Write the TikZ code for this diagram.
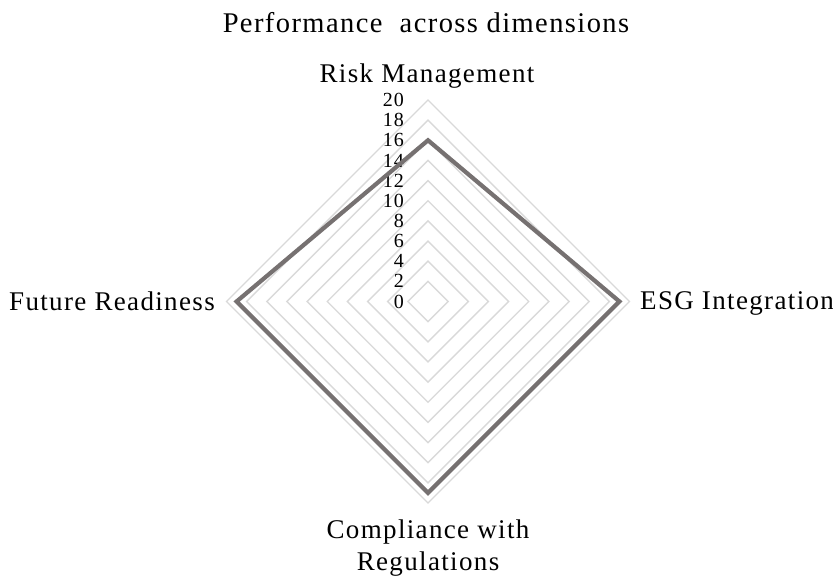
\documentclass[tikz,border=0pt]{standalone}
\usepackage{fontspec}
\setmainfont{Liberation Serif}[LetterSpace=5]
\definecolor{ringgray}{RGB}{217,217,217}
\definecolor{seriesgray}{RGB}{118,113,113}
\begin{document}
\begin{tikzpicture}[x=1pt,y=-1pt,line join=miter,
	ring/.style={draw=ringgray,line width=1.4pt},
	series/.style={draw=seriesgray,line width=4.2pt},
	tick/.style={anchor=east,inner sep=0pt,font=\fontsize{20}{20}\selectfont},
	lab/.style={inner sep=0pt,align=center,anchor=base,font=\fontsize{27}{32}\selectfont}]
	\useasboundingbox (0,0) rectangle (833,580);
	\begin{scope}[shift={(428,301.5)}]
		\def\u{10.075}
		% grid rings
		\foreach \v in {2,4,...,20}
			\draw[ring] (0,{-\v*\u})--({\v*\u},0)--(0,{\v*\u})--({-\v*\u},0)--cycle;
		\foreach \v in {0,2,...,20}
			\node[tick] (t\v) at (-24,{-\v*\u}) {\v};
		% data
		\coordinate (pr) at (0,{-16*\u});
		\coordinate (pe) at ({19*\u},0);
		\coordinate (pc) at (0,{19*\u});
		\coordinate (pf) at ({-19*\u},0);
		\draw[series] (pr)--(pe)--(pc)--(pf)--cycle;
		% labels
		\node[lab] (risk) at (-1,-218.5) {Risk Management};
		\node[lab,anchor=base west] (esg) at (212,8) {ESG Integration};
		\node[lab,anchor=base east] (fut) at (-213,8.5) {Future Readiness};
		\node[lab] (comp) at (0,268.5) {Compliance with\\Regulations};
		\node[lab,font=\fontsize{28.5}{30}\selectfont] (title) at (-2,-268.5) {Performance\ \ across dimensions};
	\end{scope}
\end{tikzpicture}
\end{document}
